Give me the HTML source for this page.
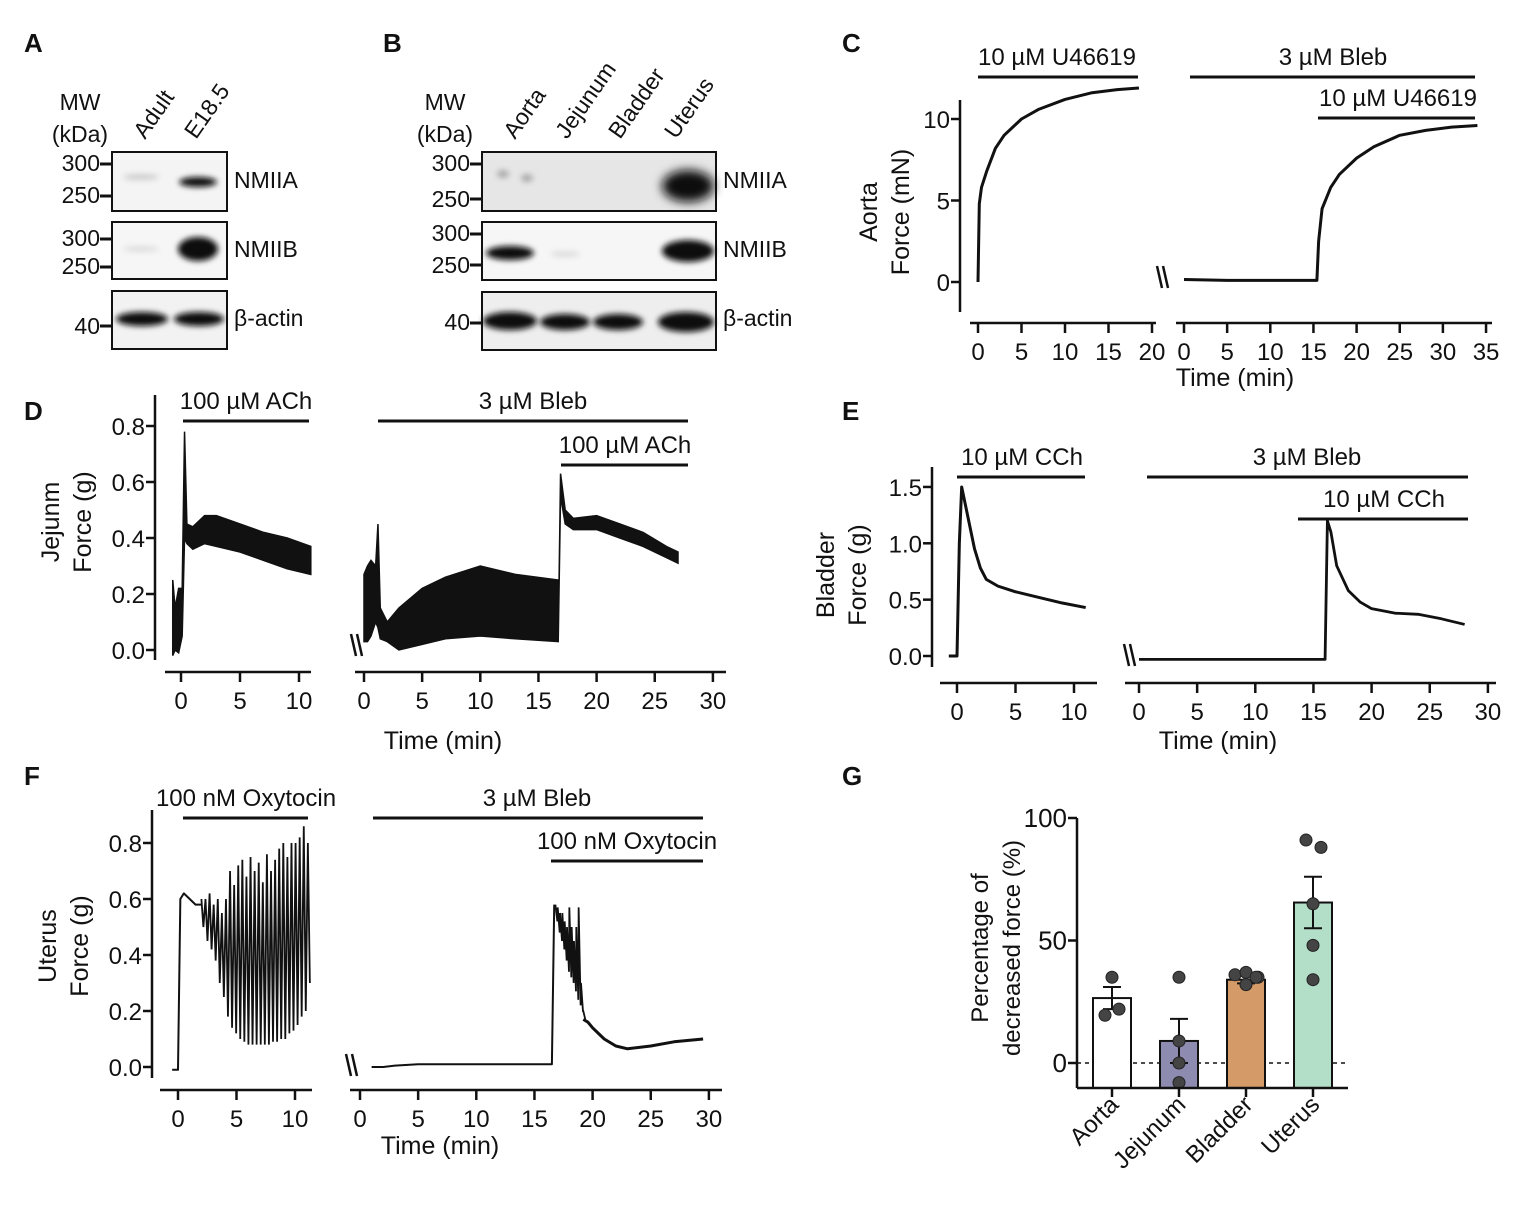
<!DOCTYPE html>
<html><head><meta charset="utf-8"><style>
body{margin:0;background:#fff}
svg{display:block;font-family:"Liberation Sans",Arial,sans-serif}
text{fill:#111}
</style></head><body>
<svg id="fig" width="1535" height="1216" viewBox="0 0 1535 1216">
<defs>
<filter id="blur" x="-50%" y="-100%" width="200%" height="300%"><feGaussianBlur stdDeviation="3"/></filter>
<filter id="blur2" x="-50%" y="-100%" width="200%" height="300%"><feGaussianBlur stdDeviation="5"/></filter>
</defs>
<g font-weight="bold" font-size="26">
<text x="24" y="52">A</text>
<text x="383" y="52">B</text>
<text x="842" y="52">C</text>
<text x="24" y="420">D</text>
<text x="842" y="420">E</text>
<text x="24" y="785">F</text>
<text x="842" y="785">G</text>
</g>

<g font-size="23">
<text x="80" y="110" text-anchor="middle">MW</text>
<text x="80" y="142" text-anchor="middle">(kDa)</text>
<text transform="translate(145,140) rotate(-55)">Adult</text>
<text transform="translate(196,140) rotate(-55)">E18.5</text>
<rect x="112" y="152" width="115" height="59" fill="#f4f4f4" stroke="#111" stroke-width="2"/>
<rect x="112" y="222" width="115" height="57" fill="#f6f6f6" stroke="#111" stroke-width="2"/>
<rect x="112" y="291" width="115" height="58" fill="#f2f2f2" stroke="#111" stroke-width="2"/>
<ellipse cx="141" cy="177" rx="18" ry="3" fill="#ccc" filter="url(#blur)"/>
<ellipse cx="198" cy="182" rx="19" ry="5" fill="#111" filter="url(#blur)"/>
<ellipse cx="141" cy="249" rx="18" ry="3" fill="#ddd" filter="url(#blur)"/>
<ellipse cx="198" cy="249" rx="20" ry="12" fill="#111" filter="url(#blur)"/>
<ellipse cx="142" cy="319" rx="26" ry="7" fill="#111" filter="url(#blur)"/>
<ellipse cx="199" cy="319" rx="25" ry="7" fill="#111" filter="url(#blur)"/>
<g text-anchor="end"><text x="100" y="171">300</text><text x="100" y="203">250</text><text x="100" y="246">300</text><text x="100" y="274">250</text><text x="100" y="334">40</text></g>
<g stroke="#111" stroke-width="3"><line x1="100" y1="164" x2="112" y2="164"/><line x1="100" y1="196" x2="112" y2="196"/><line x1="100" y1="239" x2="112" y2="239"/><line x1="100" y1="267" x2="112" y2="267"/><line x1="100" y1="326" x2="112" y2="326"/></g>
<text x="234" y="188">NMIIA</text><text x="234" y="257">NMIIB</text><text x="234" y="326">β-actin</text>
</g>

<g font-size="23">
<text x="445" y="110" text-anchor="middle">MW</text>
<text x="445" y="142" text-anchor="middle">(kDa)</text>
<text transform="translate(515,140) rotate(-55)">Aorta</text>
<text transform="translate(567,140) rotate(-55)">Jejunum</text>
<text transform="translate(620,140) rotate(-55)">Bladder</text>
<text transform="translate(676,140) rotate(-55)">Uterus</text>
<rect x="482" y="152" width="234" height="59" fill="#e6e6e6" stroke="#111" stroke-width="2"/>
<rect x="482" y="222" width="234" height="58" fill="#f6f6f6" stroke="#111" stroke-width="2"/>
<rect x="482" y="292" width="234" height="58" fill="#eeeeee" stroke="#111" stroke-width="2"/>
<ellipse cx="503" cy="174" rx="6" ry="4" fill="#aaa" filter="url(#blur)"/>
<ellipse cx="527" cy="178" rx="6" ry="4" fill="#aaa" filter="url(#blur)"/>
<ellipse cx="688" cy="186" rx="26" ry="16" fill="#111" filter="url(#blur2)"/>
<ellipse cx="510" cy="253" rx="24" ry="7" fill="#111" filter="url(#blur)"/>
<ellipse cx="565" cy="254" rx="15" ry="3" fill="#ddd" filter="url(#blur)"/>
<ellipse cx="688" cy="251" rx="26" ry="11" fill="#111" filter="url(#blur)"/>
<ellipse cx="510" cy="321" rx="27" ry="9" fill="#111" filter="url(#blur)"/>
<ellipse cx="565" cy="322" rx="25" ry="8" fill="#111" filter="url(#blur)"/>
<ellipse cx="618" cy="322" rx="25" ry="8" fill="#111" filter="url(#blur)"/>
<ellipse cx="686" cy="322" rx="28" ry="10" fill="#111" filter="url(#blur)"/>
<g text-anchor="end"><text x="470" y="171">300</text><text x="470" y="207">250</text><text x="470" y="241">300</text><text x="470" y="273">250</text><text x="470" y="330">40</text></g>
<g stroke="#111" stroke-width="3"><line x1="470" y1="164" x2="482" y2="164"/><line x1="470" y1="199" x2="482" y2="199"/><line x1="470" y1="234" x2="482" y2="234"/><line x1="470" y1="265" x2="482" y2="265"/><line x1="470" y1="323" x2="482" y2="323"/></g>
<text x="723" y="188">NMIIA</text><text x="723" y="257">NMIIB</text><text x="723" y="326">β-actin</text>
</g>
<g id="charts"></g>
</svg>
<script>
const cLeftT=[0,0.15,0.4,1,2,3,5,7,10,13,16,18.5];
const cLeftF=[0,4.8,5.8,6.8,8.2,9,10,10.6,11.2,11.6,11.8,11.9];
const cRightT=[0,5,10,15.4,15.6,16,17,18,20,22,25,28,31,34];
const cRightF=[0.15,0.1,0.1,0.1,2.5,4.5,5.8,6.6,7.6,8.3,9,9.3,9.5,9.6];
const dLT=[-0.7,-0.5,-0.2,0.1,0.3,0.5,1,2,3,5,7,9,11];
const dLUp=[0.25,0.15,0.22,0.22,0.78,0.45,0.44,0.48,0.48,0.45,0.42,0.4,0.37];
const dLLo=[-0.02,0.0,-0.01,0.05,0.4,0.38,0.36,0.38,0.37,0.35,0.32,0.29,0.27];
const dRT=[0,0.3,0.6,1,1.2,1.4,2,3,5,7,10,13,16.7];
const dRUp=[0.27,0.3,0.32,0.3,0.45,0.15,0.1,0.15,0.22,0.26,0.3,0.27,0.25];
const dRLo=[0.03,0.03,0.05,0.1,0.08,0.04,0.03,0.0,0.02,0.04,0.05,0.04,0.03];
const dR2T=[16.7,16.9,17.3,18,20,22,24,26,27];
const dR2Up=[0.03,0.63,0.5,0.47,0.48,0.45,0.42,0.37,0.35];
const dR2Lo=[0.03,0.55,0.45,0.43,0.43,0.4,0.37,0.33,0.31];
const eLT=[-0.7,0,0.2,0.4,0.7,1,1.5,2,2.5,3.5,5,7,9,11];
const eLF=[0,0,1.0,1.5,1.35,1.2,0.95,0.78,0.68,0.62,0.57,0.52,0.47,0.43];
const eRT=[0,5,10,16,16.2,16.5,17,18,19,20,22,24,26,28];
const eRF=[-0.03,-0.03,-0.03,-0.03,1.2,1.1,0.8,0.58,0.48,0.42,0.38,0.37,0.33,0.28];
const fLT=[-0.5,0,0.2,0.5,1,1.5,2];
const fLF=[-0.01,-0.01,0.6,0.62,0.6,0.58,0.58];
const fST=[2,2.35,2.7,3.05,3.4,3.75,4.1,4.45,4.8,5.15,5.5,5.85,6.2,6.55,6.9,7.25,7.6,7.95,8.3,8.65,9,9.35,9.7,10.05,10.4,10.75,11.1];
const fSHi=[0.6,0.6,0.62,0.58,0.6,0.55,0.6,0.7,0.65,0.72,0.74,0.68,0.75,0.7,0.73,0.66,0.76,0.7,0.74,0.78,0.8,0.75,0.8,0.8,0.82,0.86,0.8];
const fSLo=[0.5,0.45,0.42,0.38,0.3,0.25,0.18,0.14,0.12,0.1,0.09,0.08,0.08,0.08,0.08,0.08,0.08,0.09,0.09,0.1,0.1,0.12,0.13,0.15,0.18,0.2,0.3];
const fRT=[1,2,3,5,10,16.5,16.7];
const fRF=[0.0,0.0,0.005,0.01,0.01,0.01,0.58];
const fRST=[16.8,17,17.2,17.4,17.6,17.8,18,18.2,18.4,18.6,18.8,19,19.2];
const fRSHi=[0.58,0.57,0.55,0.55,0.52,0.5,0.57,0.5,0.45,0.5,0.57,0.3,0.2];
const fRSLo=[0.52,0.48,0.45,0.42,0.38,0.34,0.32,0.3,0.27,0.24,0.22,0.2,0.17];
const fR2T=[19.2,19.6,20,21,22,23,25,27,29.5];
const fR2F=[0.17,0.16,0.14,0.1,0.075,0.065,0.075,0.09,0.1];
const gCats=["Aorta","Jejunum","Bladder","Uterus"];
const gMeans=[26.5,9,34,65.5];
const gSem=[4.5,9,1.5,10.5];
const gPts=[[35,22,19.5],[35,9,0,-8],[36,37,35,32,35],[91,88,65,48,34]];
const gColors=["#ffffff","#8e8bb0","#d49b69","#b3dfc9"];

const NS="http://www.w3.org/2000/svg";
const root=document.getElementById('charts');
function mk(tag,attrs,parent){const e=document.createElementNS(NS,tag);for(const k in attrs)e.setAttribute(k,attrs[k]);(parent||root).appendChild(e);return e;}
function txt(s,x,y,anchor,size,parent,rot){const e=mk('text',{x:x,y:y,'text-anchor':anchor||'middle','font-size':size||24},parent);if(rot)e.setAttribute('transform','rotate('+rot+' '+x+' '+y+')');e.textContent=s;return e;}
function line(x1,y1,x2,y2,w,parent){return mk('line',{x1:x1,y1:y1,x2:x2,y2:y2,stroke:'#111','stroke-width':w||2.5},parent);}

function yAxis(name,x,ytop,ybot,ticks,labels,ys,fs){
  const g=mk('g',{});
  
  
  line(x,ytop,x,ybot,2.5,g);
  ticks.forEach((v,i)=>{const y=ys(v);line(x-9,y,x,y,2.5,g);txt(labels[i],x-10,y+9,'end',fs||24,g);});
}
function xAxis(name,y,x1,x2,ticks,xs){
  const g=mk('g',{});
  
  
  line(x1,y,x2,y,2.5,g);
  ticks.forEach(v=>{const x=xs(v);line(x,y,x,y+10,2.5,g);txt(String(v),x,y+37,'middle',24,g);});
}
function trace(name,T,F,xs,ys,w){
  const p=mk('polyline',{points:T.map((t,i)=>xs(t)+','+ys(F[i])).join(' '),fill:'none',stroke:'#111','stroke-width':w||2.5,'stroke-linejoin':'round'});
  
  
}
function band(name,T,Up,Lo,xs,ys){
  const pts=T.map((t,i)=>xs(t)+','+ys(Up[i])).concat(T.slice().reverse().map((t,j)=>xs(t)+','+ys(Lo[T.length-1-j])));
  const p=mk('polygon',{points:pts.join(' '),fill:'#111',stroke:'#111','stroke-width':1.5});
  
  
}
function spikes(name,T,Hi,Lo,xs,ys){
  const pts=[];T.forEach((t,i)=>{pts.push(xs(t)+','+ys(Hi[i]));pts.push(xs(t+0.17)+','+ys(Lo[i]));});
  const p=mk('polyline',{points:pts.join(' '),fill:'none',stroke:'#111','stroke-width':1.8});
  
  
}
function drugBar(name,x1,x2,y,label,lx){
  const g=mk('g',{});
  
  
  line(x1,y,x2,y,3,g);
  txt(label,lx==null?(x1+x2)/2:lx,y-12,'middle',24,g);
}
function brk(x,y){const g=mk('g',{});line(x,y-12,x+5,y+10,2.5,g);line(x+6,y-12,x+11,y+10,2.5,g);}
function yTitle(name,l1,l2,x,y,fs){
  const g=mk('g',{});
  
  
  txt(l1,x,y,'middle',fs||25,g,-90);txt(l2,x+32,y,'middle',fs||25,g,-90);
}

{const ys=v=>282-v*16.3, xl=t=>978+t*8.7, xr=t=>1184+t*8.63;
 yAxis('c-y-axis',960,100,312,[0,5,10],['0','5','10'],ys);
 xAxis('c-x-axis-left',323,970,1156,[0,5,10,15,20],xl);
 xAxis('c-x-axis-right',323,1176,1492,[0,5,10,15,20,25,30,35],xr);
 trace('c-trace-control',cLeftT,cLeftF,xl,ys,3);
 trace('c-trace-bleb',cRightT,cRightF,xr,ys,3);
 drugBar('c-bar-u46619',978,1138,77,'10 µM U46619',1057);
 drugBar('c-bar-bleb',1190,1475,77,'3 µM Bleb',1333);
 drugBar('c-bar-u46619-2',1318,1475,118,'10 µM U46619',1398);
 brk(1157,278);
 yTitle('c-y-title','Aorta','Force (mN)',877,212);
 const t=txt('Time (min)',1235,386,'middle',25);}

{const ys=v=>650-v*280, xl=t=>181+t*11.8, xr=t=>364+t*11.63;
 yAxis('d-y-axis',155,395,660,[0,0.2,0.4,0.6,0.8],['0.0','0.2','0.4','0.6','0.8'],ys);
 xAxis('d-x-axis-left',672,165,311,[0,5,10],xl);
 xAxis('d-x-axis-right',672,355,726,[0,5,10,15,20,25,30],xr);
 band('d-trace-control',dLT,dLUp,dLLo,xl,ys);
 band('d-trace-bleb',dRT,dRUp,dRLo,xr,ys);
 band('d-trace-bleb-ach',dR2T,dR2Up,dR2Lo,xr,ys);
 drugBar('d-bar-ach',183,309,421,'100 µM ACh',246);
 drugBar('d-bar-bleb',378,688,421,'3 µM Bleb',533);
 drugBar('d-bar-ach-2',561,688,465,'100 µM ACh',625);
 brk(351,646);
 yTitle('d-y-title','Jejunm','Force (g)',59,522);
 const t=txt('Time (min)',443,749,'middle',25);}

{const ys=v=>656-v*112.7, xl=t=>957+t*11.7, xr=t=>1139+t*11.63;
 yAxis('e-y-axis',932,467,667,[0,0.5,1,1.5],['0.0','0.5','1.0','1.5'],ys);
 xAxis('e-x-axis-left',683,940,1097,[0,5,10],xl);
 xAxis('e-x-axis-right',683,1125,1496,[0,5,10,15,20,25,30],xr);
 trace('e-trace-control',eLT,eLF,xl,ys,3);
 trace('e-trace-bleb',eRT,eRF,xr,ys,2.8);
 drugBar('e-bar-cch',957,1085,477,'10 µM CCh',1022);
 drugBar('e-bar-bleb',1147,1468,477,'3 µM Bleb',1307);
 drugBar('e-bar-cch-2',1298,1468,519,'10 µM CCh',1384);
 brk(1124,656);
 yTitle('e-y-title','Bladder','Force (g)',834,575);
 const t=txt('Time (min)',1218,749,'middle',25);}

{const ys=v=>1067-v*280, xl=t=>178+t*11.7, xr=t=>360+t*11.63;
 yAxis('f-y-axis',152,810,1078,[0,0.2,0.4,0.6,0.8],['0.0','0.2','0.4','0.6','0.8'],ys);
 xAxis('f-x-axis-left',1090,160,312,[0,5,10],xl);
 xAxis('f-x-axis-right',1090,350,722,[0,5,10,15,20,25,30],xr);
 trace('f-trace-control',fLT,fLF,xl,ys,2);
 spikes('f-trace-control-osc',fST,fSHi,fSLo,xl,ys);
 trace('f-trace-bleb',fRT,fRF,xr,ys,2);
 spikes('f-trace-bleb-osc',fRST,fRSHi,fRSLo,xr,ys);
 trace('f-trace-bleb-tail',fR2T,fR2F,xr,ys,3);
 drugBar('f-bar-oxytocin',183,308,818,'100 nM Oxytocin',246);
 drugBar('f-bar-bleb',373,703,818,'3 µM Bleb',537);
 drugBar('f-bar-oxytocin-2',551,703,861,'100 nM Oxytocin',627);
 brk(346,1066);
 yTitle('f-y-title','Uterus','Force (g)',56,946);
 const t=txt('Time (min)',440,1154,'middle',25);}

{const ys=v=>1063-v*2.45, xc=i=>1112+i*67, bw=38;
 const dash=mk('line',{x1:1077,y1:ys(0),x2:1348,y2:ys(0),stroke:'#111','stroke-width':1.5,'stroke-dasharray':'4,4'});
 
 
 gMeans.forEach((m,i)=>{
   const yb=1088;
   const r=mk('rect',{x:xc(i)-bw/2,y:ys(m),width:bw,height:yb-ys(m),fill:gColors[i],stroke:'#111','stroke-width':2});
   
   
   const eb=mk('g',{});
   
   
   line(xc(i),ys(m+gSem[i]),xc(i),ys(m-gSem[i]),2,eb);
   line(xc(i)-9,ys(m+gSem[i]),xc(i)+9,ys(m+gSem[i]),2,eb);
   line(xc(i)-9,ys(m-gSem[i]),xc(i)+9,ys(m-gSem[i]),2,eb);
   const n=gPts[i].length;
   gPts[i].forEach((v,j)=>{
     const off=n===3?[0,7,-7][j]:n===4?[0,0,0,0][j]:(i===3?[-7,8,0,0,0][j]:[-11,0,12,0,10][j]);
     const c=mk('circle',{cx:xc(i)+off,cy:ys(v),r:6,fill:'#444',stroke:'#222','stroke-width':1});
     
     
   });
   const t=txt(gCats[i],xc(i)+8,1106,'end',24,null,-45);
   
   
   line(xc(i),1088,xc(i),1097,2.5);
 });
 yAxis('g-y-axis',1077,818,1088,[0,50,100],['0','50','100'],ys,26);
 const xa=line(1077,1088,1348,1088,2.5);
 
 
 yTitle('g-y-title','Percentage of','decreased force (%)',988,948,24);}
</script>
</body></html>
